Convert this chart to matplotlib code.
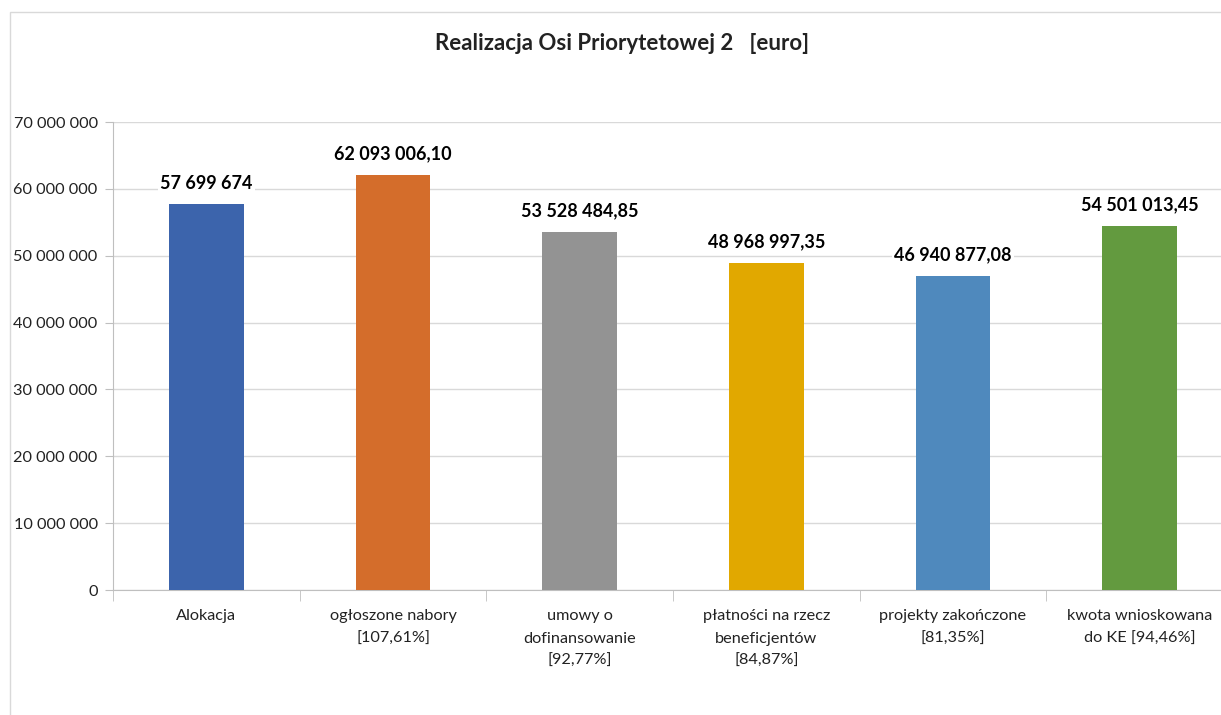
import numpy as np
import matplotlib.pyplot as plt
from matplotlib.patches import Rectangle

categories = ["Alokacja", "ogłoszone nabory\n[107,61%]", "umowy o\ndofinansowanie\n[92,77%]",
              "płatności na rzecz\nbeneficjentów\n[84,87%]", "projekty zakończone\n[81,35%]",
              "kwota wnioskowana\ndo KE [94,46%]"]
values = [57699674, 62093006.10, 53528484.85, 48968997.35, 46940877.08, 54501013.45]
value_labels = ["57 699 674", "62 093 006,10", "53 528 484,85", "48 968 997,35",
                "46 940 877,08", "54 501 013,45"]
colors = ["#3C64AC", "#D46D2B", "#939393", "#E1A800", "#4F89BD", "#639A3F"]
yticks = np.arange(0, 70000001, 10000000)

plt.rcParams['font.family'] = ['Lato', 'DejaVu Sans']

fig = plt.figure(figsize=(12.21, 7.15), dpi=100)
fig.patches.append(Rectangle((10 / 1221, -0.1), 1.2, 0.1 + (715 - 12) / 715,
                             transform=fig.transFigure, fill=False,
                             edgecolor="#D9D9D9", linewidth=1))
ax = fig.add_axes([113 / 1221, 125 / 715, 1120 / 1221, 468 / 715])

x = np.arange(len(categories))
ax.bar(x, values, width=0.4, color=colors, zorder=3)

for xi, v, lab in zip(x, values, value_labels):
    ax.annotate(lab, (xi, v), xytext=(0, 9), textcoords="offset points",
                ha="center", va="bottom", fontsize=13, fontweight="bold",
                bbox=dict(facecolor="white", edgecolor="none", pad=1.5), zorder=4)

ax.set_xlim(-0.5, len(categories) - 0.5)
ax.set_ylim(0, 70000000)
ax.set_yticks(yticks)
ax.set_yticklabels([f"{int(t):,}".replace(",", " ") for t in yticks], fontsize=11.7, color="#222222")
ax.set_xticks(x)
ax.set_xticklabels(categories, fontsize=11.7, color="#222222", linespacing=1.75)
ax.set_xticks(np.arange(-0.5, len(categories)), minor=True)
ax.tick_params(axis="x", which="major", length=0, pad=14)
ax.tick_params(axis="x", which="minor", length=8, color="#BFBFBF")
ax.tick_params(axis="y", length=6, color="#BFBFBF", pad=5)

ax.grid(axis="y", color="#D9D9D9", linewidth=1, zorder=0)
for s in ["top", "right"]:
    ax.spines[s].set_visible(False)
ax.spines["left"].set_color("#BFBFBF")
ax.spines["bottom"].set_color("#BFBFBF")

fig.text(622 / 1221, 1 - 44 / 715, "Realizacja Osi Priorytetowej 2   [euro]",
         ha="center", va="center", fontsize=16, fontweight="bold", color="#222222")

fig.savefig("out.png", dpi=100)
